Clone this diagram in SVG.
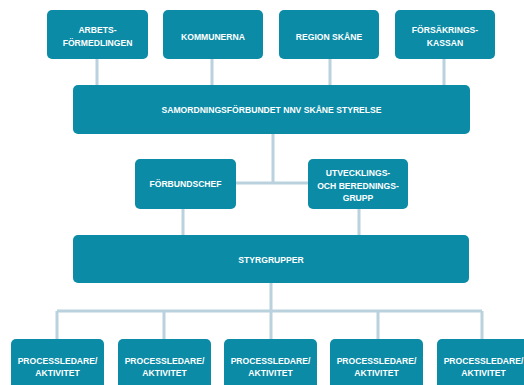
<svg xmlns="http://www.w3.org/2000/svg" width="524" height="385" viewBox="0 0 524 385">
<style>
.b{fill:#0b8ba6}
.t{fill:#fff;font-family:"Liberation Sans",Arial,sans-serif;font-weight:bold;font-size:8.6px;text-anchor:middle}
.c{stroke:#b9d2de;stroke-width:3;fill:none}
</style>
<rect width="524" height="385" fill="#fff"/>
<g id="connectors">
<path class="c" d="M97 59V85M212 59V85M330 59V85M444 59V85"/>
<path class="c" d="M273 134V183M236 183H308"/>
<path class="c" d="M183 209V235M359 209V235"/>
<path class="c" d="M271 283V311M57 311H482M57 311V339M164 311V339M271 311V339M378 311V339M482 311V339"/>
</g>
<g id="arbets"><rect class="b" x="47" y="10" width="101" height="49" rx="5"/><text class="t" x="97.5" y="32.5">ARBETS-</text><text class="t" x="97.5" y="46">FÖRMEDLINGEN</text></g>
<g id="kommunerna"><rect class="b" x="163" y="10" width="100" height="49" rx="5"/><text class="t" x="213" y="40">KOMMUNERNA</text></g>
<g id="region"><rect class="b" x="279" y="10" width="100" height="49" rx="5"/><text class="t" x="329" y="40">REGION SKÅNE</text></g>
<g id="forsakrings"><rect class="b" x="395" y="10" width="100" height="49" rx="5"/><text class="t" x="445" y="32.5">FÖRSÄKRINGS-</text><text class="t" x="445" y="46">KASSAN</text></g>
<g id="styrelse"><rect class="b" x="73" y="85" width="397" height="49" rx="5"/><text class="t" x="271.5" y="113">SAMORDNINGSFÖRBUNDET NNV SKÅNE STYRELSE</text></g>
<g id="forbundschef"><rect class="b" x="135" y="159" width="101" height="50" rx="5"/><text class="t" x="185.5" y="187">FÖRBUNDSCHEF</text></g>
<g id="utvecklings"><rect class="b" x="308" y="159" width="100" height="50" rx="5"/><text class="t" x="358" y="176">UTVECKLINGS-</text><text class="t" x="358" y="188.5">OCH BEREDNINGS-</text><text class="t" x="358" y="201">GRUPP</text></g>
<g id="styrgrupper"><rect class="b" x="73" y="235" width="396" height="48" rx="5"/><text class="t" x="271" y="262.5">STYRGRUPPER</text></g>
<g id="p1"><rect class="b" x="11" y="339" width="93" height="56" rx="5"/><text class="t" x="57.5" y="364">PROCESSLEDARE/</text><text class="t" x="57.5" y="375.5">AKTIVITET</text></g>
<g id="p2"><rect class="b" x="118" y="339" width="93" height="56" rx="5"/><text class="t" x="164.5" y="364">PROCESSLEDARE/</text><text class="t" x="164.5" y="375.5">AKTIVITET</text></g>
<g id="p3"><rect class="b" x="224" y="339" width="93" height="56" rx="5"/><text class="t" x="270.5" y="364">PROCESSLEDARE/</text><text class="t" x="270.5" y="375.5">AKTIVITET</text></g>
<g id="p4"><rect class="b" x="330" y="339" width="93" height="56" rx="5"/><text class="t" x="376.5" y="364">PROCESSLEDARE/</text><text class="t" x="376.5" y="375.5">AKTIVITET</text></g>
<g id="p5"><rect class="b" x="437" y="339" width="93" height="56" rx="5"/><text class="t" x="483.5" y="364">PROCESSLEDARE/</text><text class="t" x="483.5" y="375.5">AKTIVITET</text></g>
</svg>
